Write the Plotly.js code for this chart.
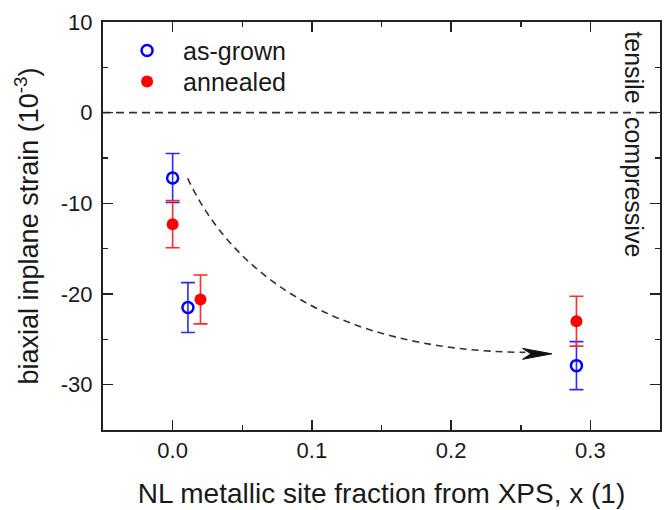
<!DOCTYPE html>
<html>
<head>
<meta charset="utf-8">
<script src="https://cdn.plot.ly/plotly-3.0.1.min.js"></script>
<style>html,body{margin:0;padding:0;background:#fff;}#chart{width:667px;height:510px;}</style>
</head>
<body>
<div id="chart"></div>
<script>
// ---- data ----
const seriesNames = ["as-grown", "annealed"];
const xGrown = [0.0, 0.011, 0.29];
const yGrown = [-7.2, -21.5, -27.9];
const errGrown = [2.7, 2.75, 2.65];
const xAnneal = [0.0, 0.02, 0.29];
const yAnneal = [-12.3, -20.6, -23.0];
const errAnneal = [2.6, 2.7, 2.75];
const xTicks = [0.0, 0.1, 0.2, 0.3];
const xTickLabels = ["0.0", "0.1", "0.2", "0.3"];
const yTicks = [-30, -20, -10, 0, 10];
const yTickLabels = ["-30", "-20", "-10", "0", "10"];
// guide arrow (cubic Bezier control points, data units) and arrow tip
const arrowX = [0.0108, 0.0418, 0.1135, 0.2533];
const arrowY = [-7.25, -17.38, -26.22, -26.44];
const arrowTip = [0.2724, -26.6];
const sideLabels = ["tensile", "compressive"];
const sideLabelY = [5.0, -8.2];

const FONT = "Arial, 'Liberation Sans', sans-serif";
const INK = "#1a1a1a";

const traces = [
  {
    x: xGrown, y: yGrown, name: seriesNames[0], type: "scatter", mode: "markers", legend: "legend",
    marker: {symbol: "circle-open", size: 11, color: "#0000ff", line: {width: 2.5, color: "#0000ff"}},
    error_y: {type: "data", array: errGrown, visible: true, color: "#2a2aff", thickness: 1.6, width: 7}
  },
  {
    x: xAnneal, y: yAnneal, name: seriesNames[1], type: "scatter", mode: "markers", legend: "legend2",
    marker: {symbol: "circle", size: 12, color: "#ff0000"},
    error_y: {type: "data", array: errAnneal, visible: true, color: "#ff2a2a", thickness: 1.6, width: 7}
  }
];

const pathD = "M " + arrowX[0] + "," + arrowY[0] +
  " C " + arrowX[1] + "," + arrowY[1] + " " + arrowX[2] + "," + arrowY[2] + " " + arrowX[3] + "," + arrowY[3];
const headBackX = arrowX[3] - 0.002;
const headD = "M " + arrowTip[0] + "," + arrowTip[1] +
  " L " + headBackX + "," + (arrowTip[1] + 0.6) +
  " L " + (headBackX + 0.006) + "," + arrowTip[1] +
  " L " + headBackX + "," + (arrowTip[1] - 0.6) + " Z";

const legendBase = {xanchor: "left", yanchor: "middle", bgcolor: "rgba(0,0,0,0)",
  font: {family: FONT, size: 25, color: INK}, itemwidth: 62};

const layout = {
  width: 667, height: 510,
  margin: {l: 103, r: 7, t: 22, b: 80},
  paper_bgcolor: "#ffffff", plot_bgcolor: "#ffffff",
  font: {family: FONT, color: INK, size: 22},
  showlegend: true,
  legend: Object.assign({x: 0.0145, y: 0.9297}, legendBase),
  legend2: Object.assign({x: 0.0145, y: 0.8537}, legendBase),
  xaxis: {
    range: [-0.05, 0.35], tickmode: "array", tickvals: xTicks, ticktext: xTickLabels,
    ticks: "inside", ticklen: 10, tickwidth: 1.5, tickcolor: "#222",
    minor: {dtick: 0.05, ticks: "inside", ticklen: 5, tickwidth: 1.5, tickcolor: "#222"},
    showline: true, linecolor: "#222", linewidth: 2, mirror: "allticks",
    showgrid: false, zeroline: false,
    tickfont: {family: FONT, size: 22, color: INK},
    title: {text: "NL metallic site fraction from XPS, x (1)", font: {family: FONT, size: 28, color: INK}, standoff: 21}
  },
  yaxis: {
    range: [-35, 10], tickmode: "array", tickvals: yTicks, ticktext: yTickLabels,
    ticks: "inside", ticklen: 10, tickwidth: 1.5, tickcolor: "#222",
    minor: {dtick: 5, ticks: "inside", ticklen: 5, tickwidth: 1.5, tickcolor: "#222"},
    showline: true, linecolor: "#222", linewidth: 2, mirror: "allticks",
    showgrid: false, zeroline: false, ticklabelstandoff: 4,
    tickfont: {family: FONT, size: 22, color: INK},
    title: {text: "biaxial inplane strain (10<sup>-3</sup>)", font: {family: FONT, size: 27, color: INK}, standoff: 14}
  },
  shapes: [
    {type: "line", xref: "paper", yref: "y", x0: 0, x1: 1, y0: 0, y1: 0,
     line: {color: "#333", width: 1.6, dash: "8px,5px"}, layer: "below"},
    {type: "path", xref: "x", yref: "y", path: pathD,
     line: {color: "#333", width: 1.6, dash: "7px,5px"}},
    {type: "path", xref: "x", yref: "y", path: headD, fillcolor: "#111", line: {color: "#111", width: 1}}
  ],
  annotations: [
    {xref: "paper", yref: "y", x: 0.957, y: sideLabelY[0], xshift: 14, text: sideLabels[0], showarrow: false,
     textangle: 90, font: {family: FONT, size: 25, color: INK}},
    {xref: "paper", yref: "y", x: 0.957, y: sideLabelY[1], xshift: 14, text: sideLabels[1], showarrow: false,
     textangle: 90, font: {family: FONT, size: 25, color: INK}}
  ]
};

Plotly.newPlot("chart", traces, layout, {displayModeBar: false, staticPlot: true});
</script>
</body>
</html>
